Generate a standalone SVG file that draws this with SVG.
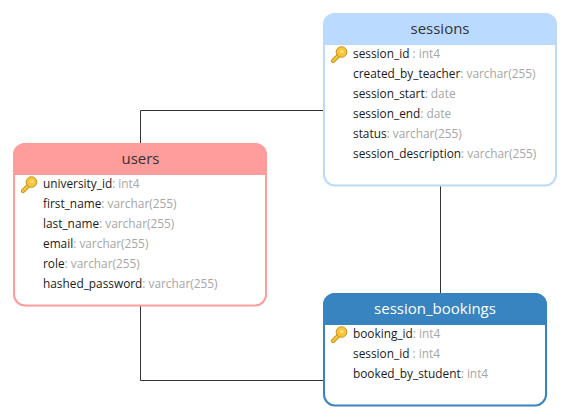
<svg xmlns="http://www.w3.org/2000/svg" width="570" height="420" viewBox="0 0 570 420">
<style>
text{font-family:"Open Sans","Noto Sans","Liberation Sans",sans-serif}
.t{font-size:15px;text-anchor:middle;fill:#333}
.r{font-size:11.85px;fill:#1a1a1a}
.r tspan{fill:#a6a6a6}
.c{fill:none;stroke:#333;stroke-width:1}
.b{fill:#fff;stroke-width:2}
</style>
<defs>
<g id="key">
<path d="M2 15 L8 9" fill="none" stroke="#c8961e" stroke-width="4.4" stroke-linecap="round"/>
<path d="M2 15 L8 9" fill="none" stroke="#f7c63c" stroke-width="2.4" stroke-linecap="round"/>
<circle cx="10.500" cy="6" r="5.300" fill="#f7c63c" stroke="#c8961e" stroke-width="1"/>
<circle cx="11" cy="5.500" r="1.600" fill="#fbe28a"/>
</g>
</defs>
<g id="connectors">
<path class="c" d="M140.500 144V110.500H324"/>
<path class="c" d="M440.500 186V294"/>
<path class="c" d="M140.500 305V380.500H324"/>
</g>
<g id="users">
<rect class="b" x="14" y="144" width="252" height="161.500" rx="11" stroke="#ff9c9c"/>
<path d="M13 175V155a12 12 0 0 1 12-12H255a12 12 0 0 1 12 12V175Z" fill="#ff9c9c"/>
<text class="t" x="140.500" y="164">users</text>
<use href="#key" x="21" y="176"/>
<text class="r" x="43" y="188">university_id<tspan>: int4</tspan></text>
<text class="r" x="43" y="208">first_name<tspan>: varchar(255)</tspan></text>
<text class="r" x="43" y="228">last_name<tspan>: varchar(255)</tspan></text>
<text class="r" x="43" y="248">email<tspan>: varchar(255)</tspan></text>
<text class="r" x="43" y="268">role<tspan>: varchar(255)</tspan></text>
<text class="r" x="43" y="288">hashed_password<tspan>: varchar(255)</tspan></text>
</g>
<g id="sessions">
<rect class="b" x="324" y="14" width="232" height="171.500" rx="11" stroke="#bbdaff"/>
<path d="M323 45V25a12 12 0 0 1 12-12H545a12 12 0 0 1 12 12V45Z" fill="#bbdaff"/>
<text class="t" x="440" y="34">sessions</text>
<use href="#key" x="331" y="46"/>
<text class="r" x="353" y="58">session_id<tspan> : int4</tspan></text>
<text class="r" x="353" y="78">created_by_teacher<tspan>: varchar(255)</tspan></text>
<text class="r" x="353" y="98">session_start<tspan>: date</tspan></text>
<text class="r" x="353" y="118">session_end<tspan>: date</tspan></text>
<text class="r" x="353" y="138">status<tspan>: varchar(255)</tspan></text>
<text class="r" x="353" y="158">session_description<tspan>: varchar(255)</tspan></text>
</g>
<g id="session_bookings">
<rect class="b" x="324" y="294" width="222" height="111.500" rx="11" stroke="#3884c0"/>
<path d="M323 325V305a12 12 0 0 1 12-12H535a12 12 0 0 1 12 12V325Z" fill="#3884c0"/>
<text class="t" x="435" y="314" style="fill:#fff">session_bookings</text>
<use href="#key" x="331" y="326"/>
<text class="r" x="353" y="338">booking_id<tspan>: int4</tspan></text>
<text class="r" x="353" y="358">session_id<tspan> : int4</tspan></text>
<text class="r" x="353" y="378">booked_by_student<tspan>: int4</tspan></text>
</g>
</svg>
